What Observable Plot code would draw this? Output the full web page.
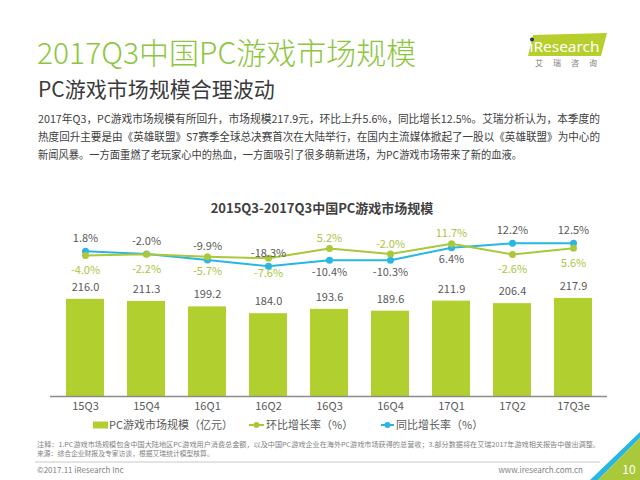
<!DOCTYPE html>
<html>
<head>
<meta charset="utf-8">
<script src="https://cdn.jsdelivr.net/npm/d3@7"></script>
<script src="https://cdn.jsdelivr.net/npm/@observablehq/plot@0.6"></script>
<style>
  html, body { margin: 0; padding: 0; background: #fff; }
  #page { position: relative; width: 640px; height: 480px; overflow: hidden; font-family: "Noto Sans CJK SC", "Noto Sans", sans-serif; }
  #page > svg, #page > div { position: absolute; left: 0; }
  .layer { position: absolute; left: 0; top: 220px; }
</style>
</head>
<body>
<div id="page">
<svg id="deco" width="640" height="480" style="top:0" font-family="Noto Sans CJK SC, Noto Sans, sans-serif">
  <text x="37" y="64" font-size="30" font-weight="300" fill="#8cc63e">2017Q3中国PC游戏市场规模</text>
  <text x="38" y="96.5" font-size="21" fill="#3a3a3a">PC游戏市场规模合理波动</text>
  <g font-size="11" fill="#404040">
    <text x="38" y="122.5" textLength="562" lengthAdjust="spacingAndGlyphs">2017年Q3，PC游戏市场规模有所回升，市场规模217.9元，环比上升5.6%，同比增长12.5%。艾瑞分析认为，本季度的</text>
    <text x="38" y="140.5" textLength="562" lengthAdjust="spacingAndGlyphs">热度回升主要是由《英雄联盟》S7赛季全球总决赛首次在大陆举行，在国内主流媒体掀起了一股以《英雄联盟》为中心的</text>
    <text x="38" y="158.5" textLength="484" lengthAdjust="spacingAndGlyphs">新闻风暴。一方面重燃了老玩家心中的热血，一方面吸引了很多萌新进场，为PC游戏市场带来了新的血液。</text>
  </g>
  <text x="322" y="212.5" font-size="13" font-weight="bold" fill="#404040" text-anchor="middle">2015Q3-2017Q3中国PC游戏市场规模</text>
  <!-- logo -->
  <polygon points="533,35 607,33 601,56 528,56" fill="#b6cf2c"/>
  <circle cx="532" cy="39.5" r="2" fill="#1f3a5a"/>
  <text x="529.5" y="52" font-size="15" fill="#fff" font-family="Noto Sans, sans-serif" textLength="70" lengthAdjust="spacingAndGlyphs">ıResearch</text>
  <text x="535" y="66" font-size="8" fill="#808080" letter-spacing="10">艾瑞咨询</text>
  <!-- legend -->
  <g font-size="11" fill="#595959">
    <rect x="93" y="421.5" width="15" height="7" fill="#b2cf30"/>
    <text x="109" y="429">PC游戏市场规模（亿元）</text>
    <line x1="249" y1="425" x2="264" y2="425" stroke="#aac83a" stroke-width="2"/>
    <circle cx="256.5" cy="425" r="3" fill="#aac83a"/>
    <text x="266" y="429">环比增长率（%）</text>
    <line x1="381" y1="425" x2="394" y2="425" stroke="#29b6e3" stroke-width="2"/>
    <circle cx="387.5" cy="425" r="3" fill="#29b6e3"/>
    <text x="396" y="429">同比增长率（%）</text>
  </g>
  <!-- notes -->
  <g font-size="6.8" fill="#7f7f7f">
    <text x="37" y="447" textLength="563" lengthAdjust="spacingAndGlyphs">注释：1.PC游戏市场规模包含中国大陆地区PC游戏用户消费总金额，以及中国PC游戏企业在海外PC游戏市场获得的总营收；3.部分数据将在艾瑞2017年游戏相关报告中做出调整。</text>
    <text x="37" y="455.5">来源：综合企业财报及专家访谈，根据艾瑞统计模型核算。</text>
  </g>
  <line x1="35" y1="462" x2="600" y2="462" stroke="#c8c8c8" stroke-width="1"/>
  <text x="37" y="472.5" font-size="8" fill="#7f7f7f">©2017.11 iResearch Inc</text>
  <text x="583" y="472.5" font-size="8" fill="#7f7f7f" text-anchor="end">www.iresearch.com.cn</text>
  <!-- corner -->
  <polygon points="590,480 640,432 640,438 598,480" fill="#29b6e3"/>
  <polygon points="598,480 640,438 640,480" fill="#a9c93a"/>
  <text x="629" y="474" font-size="12" fill="#fff" text-anchor="middle">10</text>
</svg>
<div id="bars" class="layer"></div>
<div id="lines" class="layer"></div>
</div>
<script>
const quarters = ["15Q3", "15Q4", "16Q1", "16Q2", "16Q3", "16Q4", "17Q1", "17Q2", "17Q3e"];
const marketSize = [216.0, 211.3, 199.2, 184.0, 193.6, 189.6, 211.9, 206.4, 217.9];
const qoqGrowth = [-4.0, -2.2, -5.7, -7.6, 5.2, -2.0, 11.7, -2.6, 5.6];
const yoyGrowth = [1.8, -2.0, -9.9, -18.3, -10.4, -10.3, 6.4, 12.2, 12.5];
const yoyLabelOnTop = [true, true, true, true, false, false, false, true, true];

const GREEN = "#b2cf30", LINEGREEN = "#aac83a", LABELGREEN = "#a8c63e", BLUE = "#29b6e3", GRAY = "#595959";
const FONT = "Noto Sans CJK SC, Noto Sans, sans-serif";

const rows = quarters.map((q, i) => ({
  q, size: marketSize[i], qoq: qoqGrowth[i], yoy: yoyGrowth[i], yoyTop: yoyLabelOnTop[i]
}));

const xOpts = { domain: quarters, paddingInner: 0.38, paddingOuter: 0.19 };
const common = { width: 640, height: 200, marginLeft: 50, marginRight: 33, marginTop: 0, marginBottom: 24,
  style: { fontFamily: FONT, color: GRAY, background: "transparent", overflow: "visible" } };

const bars = Plot.plot({
  ...common,
  x: { ...xOpts, label: null },
  y: { domain: [0, 300], range: [176, 41], axis: null },
  marks: [
    Plot.barY(rows, { x: "q", y: "size", fill: GREEN }),
    Plot.text(rows, { x: "q", y: "size", text: d => d.size.toFixed(1), dy: -12, fontSize: 11, fill: GRAY }),
    Plot.ruleY([0], { stroke: "#8c8c8c", strokeWidth: 1.5 }),
    Plot.axisX({ tickSize: 0, tickPadding: 6, fontSize: 11, label: null })
  ]
});
document.getElementById("bars").appendChild(bars);

const pct = v => v.toFixed(1) + "%";
const lines = Plot.plot({
  ...common,
  x: { ...xOpts, axis: null },
  y: { domain: [-20, 20], range: [47, 17], axis: null },
  marks: [
    Plot.lineY(rows, { x: "q", y: "yoy", stroke: BLUE, strokeWidth: 2 }),
    Plot.lineY(rows, { x: "q", y: "qoq", stroke: LINEGREEN, strokeWidth: 2 }),
    Plot.dot(rows, { x: "q", y: "yoy", r: 3.5, fill: BLUE }),
    Plot.dot(rows, { x: "q", y: "qoq", r: 3.5, fill: LINEGREEN }),
    Plot.text(rows.filter(d => d.yoyTop), { x: "q", y: "yoy", text: d => pct(d.yoy), dy: -13, fontSize: 11, fill: GRAY }),
    Plot.text(rows.filter(d => !d.yoyTop), { x: "q", y: "yoy", text: d => pct(d.yoy), dy: 12, fontSize: 11, fill: GRAY }),
    Plot.text(rows.filter(d => d.yoyTop), { x: "q", y: "qoq", text: d => pct(d.qoq), dy: 15, fontSize: 11, fill: LABELGREEN }),
    Plot.text(rows.filter(d => !d.yoyTop), { x: "q", y: "qoq", text: d => pct(d.qoq), dy: -10, fontSize: 11, fill: LABELGREEN })
  ]
});
document.getElementById("lines").appendChild(lines);
</script>
</body>
</html>
